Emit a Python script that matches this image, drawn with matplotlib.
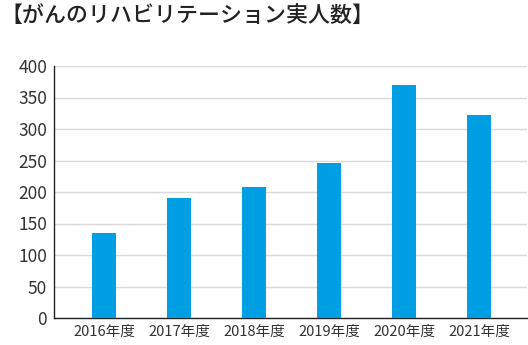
import matplotlib.pyplot as plt

plt.rcParams['font.family'] = ['Noto Sans CJK JP', 'DejaVu Sans']

# 年度ごとの実人数
years = ['2016年度', '2017年度', '2018年度', '2019年度', '2020年度', '2021年度']
counts = [135, 190, 208, 246, 370, 322]
yticks = [0, 50, 100, 150, 200, 250, 300, 350, 400]

fig = plt.figure(figsize=(5.28, 3.45), dpi=100)
ax = fig.add_axes([54 / 528, 27 / 345, 473 / 528, 252 / 345])

ax.bar(range(len(years)), counts, width=0.32, color='#009fe3', zorder=3)

ax.set_xlim(-0.67, 5.64)
ax.set_ylim(0, 400)
ax.set_yticks(yticks)
ax.set_xticks(range(len(years)))
ax.set_xticklabels(years)
ax.grid(axis='y', color='#d9d9d9', linewidth=1, zorder=0)

for s in ['top', 'right']:
    ax.spines[s].set_visible(False)
for s in ['left', 'bottom']:
    ax.spines[s].set_color('#222222')
    ax.spines[s].set_linewidth(1)

ax.tick_params(axis='both', length=0, colors='#333333')
ax.tick_params(axis='y', pad=5, labelsize=12.5)
ax.tick_params(axis='x', pad=5, labelsize=10.5)

fig.text(0.0, 1 - 15 / 345, '【がんのリハビリテーション実人数】', fontsize=15.8,
         fontweight='medium', color='#222222', ha='left', va='center')

fig.savefig('out.png', dpi=100)
